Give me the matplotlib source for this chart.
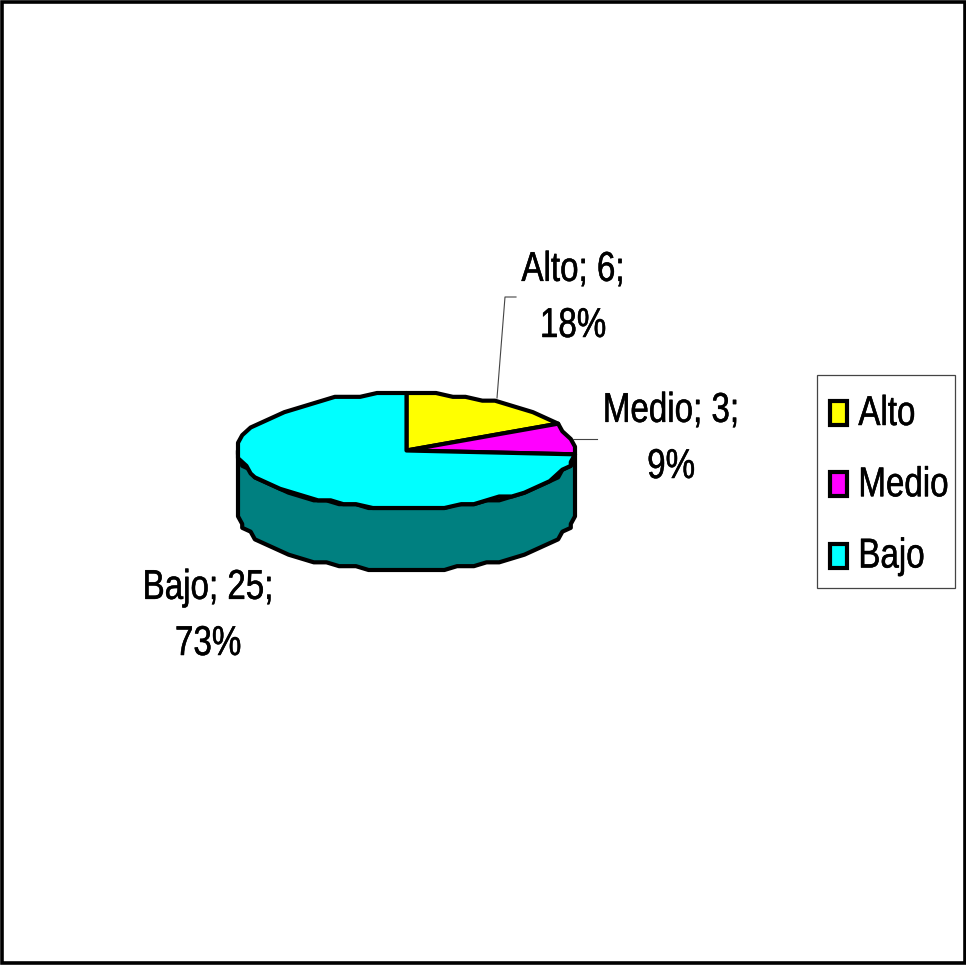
import numpy as np
import matplotlib
matplotlib.use("Agg")
import matplotlib.pyplot as plt
import matplotlib.patheffects as pe
from matplotlib.legend_handler import HandlerPatch
from matplotlib.patches import Patch, Rectangle
from matplotlib import font_manager
from fontTools.ttLib import TTFont

# Pie data
categories = ["Alto", "Medio", "Bajo"]
values = [6, 3, 25]
percents = [18, 9, 73]
colors = ["#FFFF00", "#FF00FF", "#00FFFF"]
side_color = "#008080"

W, H = 966, 965
CX, CY, RX, RY = 406.5, 450.5, 168.5, 57.5
DEPTH = 62
LW = 3.0
FS = 30
NARROW = 0.795


def make_narrow_font(path="sans_narrow.ttf"):
    # no narrow sans installed, so squeeze Liberation Sans horizontally
    font = TTFont(font_manager.findfont("Liberation Sans"))
    glyf, hmtx = font["glyf"], font["hmtx"]
    for name in font.getGlyphOrder():
        g = glyf[name]
        if g.isComposite():
            for c in g.components:
                c.x = round(c.x * NARROW)
        elif g.numberOfContours > 0:
            g.coordinates.scale((NARROW, 1))
            g.coordinates.toInt()
        g.removeHinting()
        adv, lsb = hmtx[name]
        hmtx[name] = (round(adv * NARROW), round(lsb * NARROW))
    for tag in ("fpgm", "prep", "cvt ", "kern", "GPOS", "hdmx", "VDMX", "LTSH"):
        if tag in font:
            del font[tag]
    font.save(path)
    return font_manager.FontProperties(fname=path, size=FS)


def rim(a0, a1, dy=0):
    # points along the ellipse, a = clockwise degrees from 12 o'clock,
    # snapped to a coarse grid to get the blocky outline
    n = max(int(abs(a1 - a0) / 5), 1)
    a = np.radians(np.linspace(a0, a1, n + 1))
    x = np.round(np.sin(a) * 40) / 40
    y = np.round(np.cos(a) * 15) / 15
    return CX + RX * x, CY - RY * y + dy


def legend_swatch(legend, orig_handle, xdescent, ydescent, width, height, fontsize):
    # swatch sitting on the text baseline
    return Rectangle((-xdescent, 0), width, 0.576 * fontsize)


narrow = make_narrow_font()
heavier = [pe.withStroke(linewidth=0.35, foreground="black")]

fig = plt.figure(figsize=(W / 100, H / 100), dpi=100)
ax = fig.add_axes([0, 0, 1, 1])
ax.set_xlim(0, W)
ax.set_ylim(H, 0)
ax.axis("off")

bounds = np.concatenate([[0], np.cumsum(values)]) / sum(values) * 360

# side wall, only the part of the last slice facing the viewer
top_x, top_y = rim(bounds[2], 270)
bot_x, bot_y = rim(270, bounds[2], dy=DEPTH)
ax.fill(np.concatenate([top_x, bot_x]), np.concatenate([top_y, bot_y]),
        facecolor=side_color, edgecolor="black", linewidth=LW, joinstyle="round")

# top face
for i, color in enumerate(colors):
    x, y = rim(bounds[i], bounds[i + 1])
    ax.fill(np.concatenate([[CX], x]), np.concatenate([[CY], y]),
            facecolor=color, edgecolor="black", linewidth=LW, joinstyle="round")

# leader lines
ax.plot([497, 505, 516], [398, 297, 297], color="#444444", lw=0.8)
ax.plot([573, 597], [439, 439], color="#444444", lw=0.8)

# data labels
label_pos = [(573, 337), (671, 478), (208, 655)]
for name, v, p, (lx, ly) in zip(categories, values, percents, label_pos):
    ax.text(lx, ly, f"{name}; {v};\n{p}%", fontproperties=narrow, ha="center",
            va="baseline", ma="center", linespacing=1.52, color="black",
            path_effects=heavier)

# legend, frame drawn separately
ax.add_patch(Rectangle((817, 374.5), 138, 213, fill=False, edgecolor="#444444", linewidth=0.9))
handles = [Patch(facecolor=c, edgecolor="black", linewidth=LW) for c in colors]
leg = fig.legend(handles, categories, loc="upper left",
                 bbox_to_anchor=(830 / W, 1 - 394 / H), borderaxespad=0, borderpad=0,
                 prop=narrow, frameon=False, handlelength=0.41, handleheight=0.6,
                 handletextpad=0.27, labelspacing=0.75,
                 handler_map={Patch: HandlerPatch(patch_func=legend_swatch)})
for t in leg.get_texts():
    t.set_path_effects(heavier)

# outer frame
fig.add_artist(Rectangle((1.5 / W, 2 / H), 963 / W, 961 / H, transform=fig.transFigure,
                         fill=False, edgecolor="black", linewidth=2.6))

fig.savefig("out.png", dpi=100)
